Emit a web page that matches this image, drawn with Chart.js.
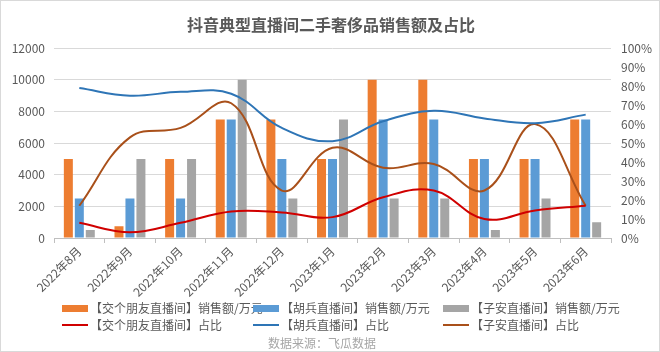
<!DOCTYPE html>
<html>
<head>
<meta charset="utf-8">
<title>抖音典型直播间二手奢侈品销售额及占比</title>
<script src="https://cdn.jsdelivr.net/npm/chart.js@4/dist/chart.umd.min.js"></script>
<style>
	body {
		margin: 0;
		background: #fff;
		font-family: "Noto Sans CJK SC", "Noto Sans", sans-serif;
	}
	#box {
		position: relative;
		width: 660px;
		height: 352px;
		box-sizing: border-box;
		border: 1px solid #d9d9d9;
	}
	#chart {
		position: absolute;
		left: 0;
		top: 0;
	}
	#legend .item {
		position: absolute;
		height: 16px;
		line-height: 16px;
		font-size: 12px;
		color: #595959;
		white-space: nowrap;
	}
	#legend .mark {
		position: absolute;
		left: 0;
		width: 26px;
	}
	#legend .text {
		position: absolute;
		left: 28px;
		top: 0;
	}
	#source {
		position: absolute;
		left: 0;
		width: 642px;
		top: 333px;
		text-align: center;
		font-size: 12px;
		color: #a6a6a6;
	}
</style>
</head>
<body>
<div id="box">
	<canvas id="chart" width="660" height="352"></canvas>
	<div id="legend"></div>
	<div id="source">数据来源：飞瓜数据</div>
</div>
<script>
var months = [ '2022年8月', '2022年9月', '2022年10月', '2022年11月', '2022年12月', '2023年1月',
		'2023年2月', '2023年3月', '2023年4月', '2023年5月', '2023年6月' ];

// 销售额/万元
var jgpySales = [ 5000, 750, 5000, 7500, 7500, 5000, 10000, 10000, 5000, 5000, 7500 ];
var hbSales = [ 2500, 2500, 2500, 7500, 5000, 5000, 7500, 7500, 5000, 5000, 7500 ];
var zaSales = [ 500, 5000, 5000, 10000, 2500, 7500, 2500, 2500, 500, 2500, 1000 ];

// 占比 %
var jgpyShare = [ 8, 3, 8, 14, 13.5, 11, 21.5, 25, 10, 14.5, 17 ];
var hbShare = [ 79, 75, 77, 76, 58, 51, 61.5, 67, 63, 60.5, 65 ];
var zaShare = [ 17, 53, 58, 71, 25, 47.5, 37, 39, 25, 60, 17 ];

var salesTicks = [ 0, 2000, 4000, 6000, 8000, 10000, 12000 ];

var textColor = '#595959';

function barSet(label, data, color) {
	return {
		type : 'bar',
		label : label,
		data : data,
		backgroundColor : color,
		yAxisID : 'y',
		order : 1,
		categoryPercentage : 0.65,
		barPercentage : 0.82
	};
}

function lineSet(label, data, color) {
	return {
		type : 'line',
		label : label,
		data : data,
		borderColor : color,
		backgroundColor : color,
		borderWidth : 2,
		pointRadius : 0,
		tension : 0.4,
		fill : false,
		yAxisID : 'y1',
		order : 0
	};
}

function setChart() {
	var config = {
		data : {
			labels : months,
			datasets : [
					barSet('【交个朋友直播间】销售额/万元', jgpySales, '#ED7D31'),
					barSet('【胡兵直播间】销售额/万元', hbSales, '#5B9BD5'),
					barSet('【子安直播间】销售额/万元', zaSales, '#A5A5A5'),
					lineSet('【交个朋友直播间】占比', jgpyShare, '#D00000'),
					lineSet('【胡兵直播间】占比', hbShare, '#2E75B6'),
					lineSet('【子安直播间】占比', zaShare, '#A9501A') ]
		},
		options : {
			responsive : false,
			animation : false,
			layout : {
				padding : {
					left : 0,
					right : 0,
					top : 0,
					bottom : 55
				}
			},
			font : {
				family : '"Noto Sans CJK SC", "Noto Sans", sans-serif'
			},
			plugins : {
				legend : {
					display : false
				},
				tooltip : {
					enabled : false
				},
				title : {
					display : true,
					text : '抖音典型直播间二手奢侈品销售额及占比',
					color : textColor,
					font : {
						size : 16,
						weight : 'bold',
						family : '"Noto Sans CJK SC", sans-serif'
					},
					padding : {
						top : 14,
						bottom : 14
					}
				}
			},
			scales : {
				x : {
					offset : true,
					grid : {
						offset : true,
						drawOnChartArea : false,
						drawTicks : true,
						tickLength : 5,
						color : '#bfbfbf'
					},
					border : {
						color : '#bfbfbf'
					},
					ticks : {
						color : textColor,
						minRotation : 45,
						maxRotation : 45,
						padding : 1,
						font : {
							size : 12
						}
					},
					afterFit : function(scale) {
						scale.height = 60;
					}
				},
				y : {
					position : 'left',
					min : 0,
					max : 12000,
					afterBuildTicks : function(scale) {
						scale.ticks = salesTicks.map(function(v) {
							return {
								value : v
							};
						});
					},
					grid : {
						color : '#d9d9d9',
						drawTicks : false
					},
					border : {
						display : false
					},
					ticks : {
						color : textColor,
						padding : 9,
						font : {
							size : 12
						},
						callback : function(v) {
							return String(v);
						}
					},
					afterFit : function(scale) {
						scale.width = 53;
					}
				},
				y1 : {
					position : 'right',
					min : 0,
					max : 100,
					grid : {
						drawOnChartArea : false,
						drawTicks : false
					},
					border : {
						display : false
					},
					ticks : {
						stepSize : 10,
						color : textColor,
						padding : 10,
						font : {
							size : 12
						},
						callback : function(v) {
							return v + '%';
						}
					},
					afterFit : function(scale) {
						scale.width = 50;
					}
				}
			}
		}
	};
	var ctx = document.getElementById('chart').getContext('2d');
	window.myChart = new Chart(ctx, config);
	setLegend(window.myChart);
}

// Excel 式图例：三列对齐
function setLegend(chart) {
	var cols = [ 61, 252, 442 ];
	var rows = [ 299, 316 ];
	var html = '';
	chart.data.datasets.forEach(function(ds, i) {
		var col = i % 3;
		var row = Math.floor(i / 3);
		var mark;
		if (ds.type == 'bar') {
			mark = '<span class="mark" style="top:5px;height:7px;background:' + ds.backgroundColor + '"></span>';
		} else {
			mark = '<span class="mark" style="top:7px;height:2px;background:' + ds.borderColor + '"></span>';
		}
		html += '<div class="item" style="left:' + cols[col] + 'px;top:' + rows[row] + 'px">' + mark
				+ '<span class="text">' + ds.label + '</span></div>';
	});
	document.getElementById('legend').innerHTML = html;
}

setChart();
</script>
</body>
</html>
